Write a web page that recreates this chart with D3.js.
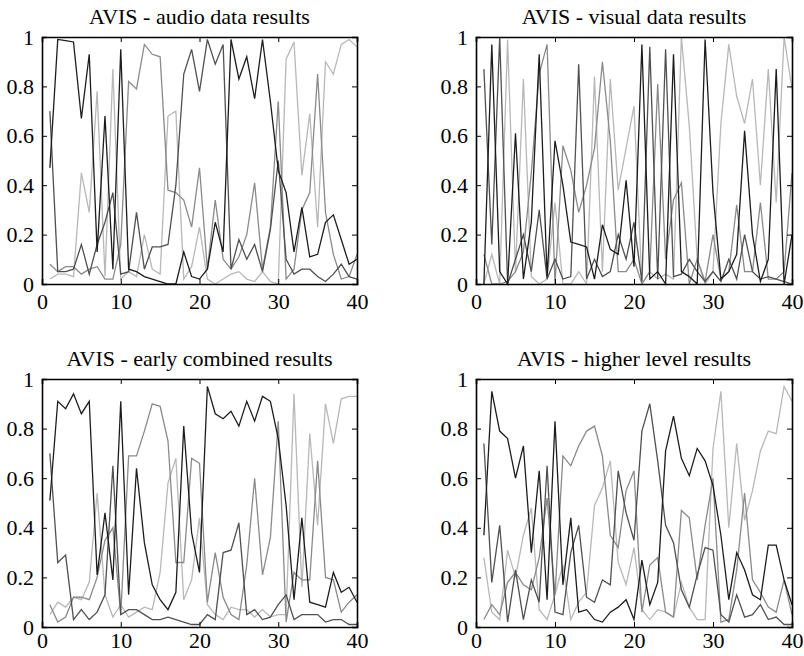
<!DOCTYPE html>
<html><head><meta charset="utf-8">
<script src="https://cdn.jsdelivr.net/npm/d3@7"></script>
<style>
body{margin:0;background:#fff}
svg{display:block}
text{font-family:"Liberation Serif","Times New Roman",serif;fill:#000}
</style>
</head><body>
<svg id="chart" width="804" height="656"></svg>
<script>
const xValues = d3.range(1, 41);
const xTicks = [0, 10, 20, 30, 40];
const yTicks = [0, 0.2, 0.4, 0.6, 0.8, 1];
const titles = ["AVIS - audio data results", "AVIS - visual data results",
                "AVIS - early combined results", "AVIS - higher level results"];
const seriesColors = ["#b8b8b8", "#8a8a8a", "#505050", "#1c1c1c"];

// audio
const audioLight  = [0.02,0.04,0.04,0.03,0.45,0.29,0.78,0.03,0.87,0.02,0.05,0.03,0.20,0.06,0.04,0.68,0.70,0.02,0.07,0.23,0.02,0.00,0.02,0.04,0.05,0.02,0.01,0.05,0.01,0.00,0.91,0.98,0.44,0.69,0.23,0.90,0.85,0.97,0.99,0.96];
const audioMedium = [0.08,0.05,0.07,0.07,0.04,0.06,0.07,0.02,0.02,0.16,0.82,0.79,0.97,0.93,0.92,0.38,0.37,0.34,0.23,0.47,0.06,0.34,0.10,0.06,0.11,0.20,0.41,0.06,0.23,0.74,0.02,0.06,0.30,0.37,0.85,0.29,0.12,0.02,0.03,0.12];
const audioDark   = [0.70,0.05,0.05,0.06,0.16,0.04,0.16,0.25,0.37,0.04,0.05,0.29,0.06,0.15,0.15,0.16,0.40,0.85,0.95,0.78,0.99,0.89,0.97,0.06,0.18,0.10,0.16,0.05,0.22,0.50,0.10,0.04,0.06,0.06,0.03,0.01,0.04,0.08,0.03,0.02];
const audioBlack  = [0.47,0.99,0.985,0.98,0.67,0.93,0.13,0.68,0.06,0.95,0.06,0.05,0.03,0.02,0.01,0.00,0.00,0.13,0.03,0.02,0.06,0.25,0.13,0.99,0.83,0.92,0.75,0.99,0.74,0.46,0.37,0.13,0.31,0.11,0.12,0.25,0.28,0.18,0.08,0.10];

// visual
const visualLight  = [0.00,0.12,0.00,0.99,0.05,0.83,0.03,0.00,0.02,0.33,0.00,0.00,0.05,0.00,0.84,0.05,0.83,0.38,0.55,0.72,0.00,0.05,0.02,0.04,0.02,1.00,0.64,0.10,0.00,0.05,0.65,0.97,0.76,0.65,0.83,0.40,0.87,0.33,1.00,0.79];
const visualMedium = [0.12,0.00,0.00,0.01,0.05,0.13,0.45,0.85,0.97,0.00,0.56,0.46,0.29,0.40,0.55,0.90,0.58,0.05,0.05,0.10,0.00,0.05,0.81,0.10,0.34,0.41,0.00,0.10,0.01,0.20,0.02,0.05,0.32,0.05,0.05,0.33,0.02,0.02,0.05,0.45];
const visualDark   = [0.87,0.16,1.00,0.00,0.10,0.20,0.05,0.30,0.02,0.10,0.02,0.03,0.89,0.02,0.10,0.03,0.05,0.20,0.10,0.25,0.01,0.96,0.02,0.95,0.03,0.04,0.10,0.05,0.01,0.05,0.01,0.10,0.02,0.20,0.05,0.02,0.03,0.02,0.01,0.00];
const visualBlack  = [0.00,0.97,0.05,0.00,0.61,0.02,0.25,0.93,0.03,0.58,0.40,0.17,0.16,0.15,0.02,0.24,0.14,0.12,0.42,0.07,0.97,0.02,0.05,0.00,0.93,0.05,0.03,0.00,0.99,0.37,0.02,0.05,0.12,0.62,0.20,0.01,0.10,0.87,0.00,0.20];

// early combined
const earlyLight  = [0.05,0.10,0.08,0.12,0.11,0.18,0.54,0.13,0.04,0.09,0.04,0.06,0.08,0.07,0.22,0.58,0.68,0.11,0.19,0.44,0.09,0.05,0.03,0.08,0.07,0.07,0.04,0.07,0.04,0.05,0.05,0.94,0.16,0.78,0.41,0.90,0.74,0.92,0.93,0.93];
const earlyMedium = [0.09,0.02,0.04,0.12,0.12,0.11,0.20,0.35,0.40,0.05,0.69,0.69,0.79,0.90,0.89,0.75,0.26,0.26,0.68,0.66,0.10,0.30,0.12,0.05,0.03,0.25,0.60,0.21,0.36,0.83,0.02,0.22,0.19,0.19,0.67,0.20,0.19,0.06,0.10,0.13];
const earlyDark   = [0.70,0.26,0.29,0.03,0.07,0.03,0.06,0.13,0.65,0.05,0.07,0.07,0.05,0.03,0.03,0.04,0.03,0.02,0.01,0.01,0.05,0.03,0.30,0.31,0.42,0.05,0.07,0.03,0.04,0.09,0.13,0.03,0.05,0.05,0.05,0.02,0.03,0.03,0.01,0.01];
const earlyBlack  = [0.51,0.91,0.88,0.94,0.86,0.91,0.21,0.46,0.19,0.91,0.13,0.64,0.34,0.17,0.11,0.07,0.14,0.81,0.38,0.22,0.97,0.86,0.84,0.87,0.81,0.91,0.83,0.93,0.91,0.76,0.49,0.11,0.44,0.10,0.09,0.08,0.22,0.14,0.16,0.10];

// higher level
const higherLight  = [0.28,0.06,0.03,0.31,0.20,0.37,0.48,0.07,0.03,0.13,0.25,0.03,0.10,0.14,0.49,0.56,0.67,0.26,0.17,0.32,0.07,0.03,0.07,0.06,0.04,0.18,0.08,0.03,0.03,0.72,0.95,0.40,0.74,0.43,0.55,0.71,0.79,0.78,0.97,0.91];
const higherMedium = [0.03,0.09,0.05,0.18,0.22,0.17,0.15,0.28,0.52,0.13,0.69,0.65,0.73,0.79,0.81,0.69,0.37,0.32,0.55,0.63,0.06,0.25,0.28,0.06,0.04,0.47,0.44,0.19,0.41,0.60,0.02,0.03,0.23,0.54,0.19,0.14,0.08,0.06,0.19,0.05];
const higherDark   = [0.74,0.18,0.41,0.02,0.23,0.03,0.19,0.10,0.65,0.06,0.05,0.30,0.41,0.12,0.10,0.19,0.17,0.63,0.46,0.35,0.79,0.90,0.67,0.41,0.34,0.15,0.08,0.21,0.32,0.31,0.05,0.02,0.13,0.04,0.05,0.09,0.03,0.04,0.01,0.01];
const higherBlack  = [0.37,0.95,0.79,0.76,0.60,0.73,0.30,0.63,0.11,0.83,0.17,0.44,0.06,0.07,0.03,0.02,0.06,0.08,0.11,0.03,0.27,0.09,0.18,0.71,0.85,0.68,0.61,0.72,0.67,0.57,0.37,0.11,0.30,0.23,0.13,0.11,0.33,0.33,0.19,0.09];

const panelsData = [
  [audioLight, audioMedium, audioDark, audioBlack],
  [visualLight, visualMedium, visualDark, visualBlack],
  [earlyLight, earlyMedium, earlyDark, earlyBlack],
  [higherLight, higherMedium, higherDark, higherBlack]
];

const frames = [
  {x0: 42, x1: 357, y0: 37, y1: 284, pad: 9},
  {x0: 476, x1: 792, y0: 37, y1: 284, pad: 9},
  {x0: 42, x1: 357, y0: 379, y1: 627, pad: 5},
  {x0: 476, x1: 792, y0: 379, y1: 627, pad: 5}
];

const svg = d3.select("#chart");
const fontSize = 22;

panelsData.forEach((series, p) => {
  const f = frames[p];
  const x = d3.scaleLinear().domain([0, 40]).range([f.x0, f.x1]);
  const y = d3.scaleLinear().domain([0, 1]).range([f.y1, f.y0]);
  const g = svg.append("g");

  const line = d3.line().x((d, i) => x(xValues[i])).y(d => y(d));
  series.forEach((vals, s) => {
    g.append("path").datum(vals)
      .attr("d", line)
      .attr("fill", "none")
      .attr("stroke", seriesColors[s])
      .attr("stroke-width", 1.3)
      .attr("stroke-linejoin", "miter");
  });

  const fmt = d3.format("~g");
  const axB = g.append("g").attr("transform", `translate(0,${f.y1})`)
    .call(d3.axisBottom(x).tickValues(xTicks).tickSize(-5).tickPadding(f.pad).tickFormat(fmt));
  const axL = g.append("g").attr("transform", `translate(${f.x0},0)`)
    .call(d3.axisLeft(y).tickValues(yTicks).tickSize(-5).tickPadding(8).tickFormat(fmt));
  const axT = g.append("g").attr("transform", `translate(0,${f.y0})`)
    .call(d3.axisTop(x).tickValues(xTicks).tickSize(-5).tickFormat(""));
  const axR = g.append("g").attr("transform", `translate(${f.x1},0)`)
    .call(d3.axisRight(y).tickValues(yTicks).tickSize(-5).tickFormat(""));
  [axB, axL, axT, axR].forEach(a => {
    a.select(".domain").attr("stroke", "#000").attr("stroke-width", 1.6);
    a.selectAll(".tick line").attr("stroke", "#000").attr("stroke-width", 1);
    a.selectAll("text").attr("font-size", fontSize)
      .attr("font-family", "Liberation Serif, Times New Roman, serif").attr("fill", "#000");
  });

  g.append("text")
    .attr("x", (f.x0 + f.x1) / 2)
    .attr("y", f.y0 - 13)
    .attr("text-anchor", "middle")
    .attr("font-size", fontSize)
    .text(titles[p]);
});
</script>
</body></html>
